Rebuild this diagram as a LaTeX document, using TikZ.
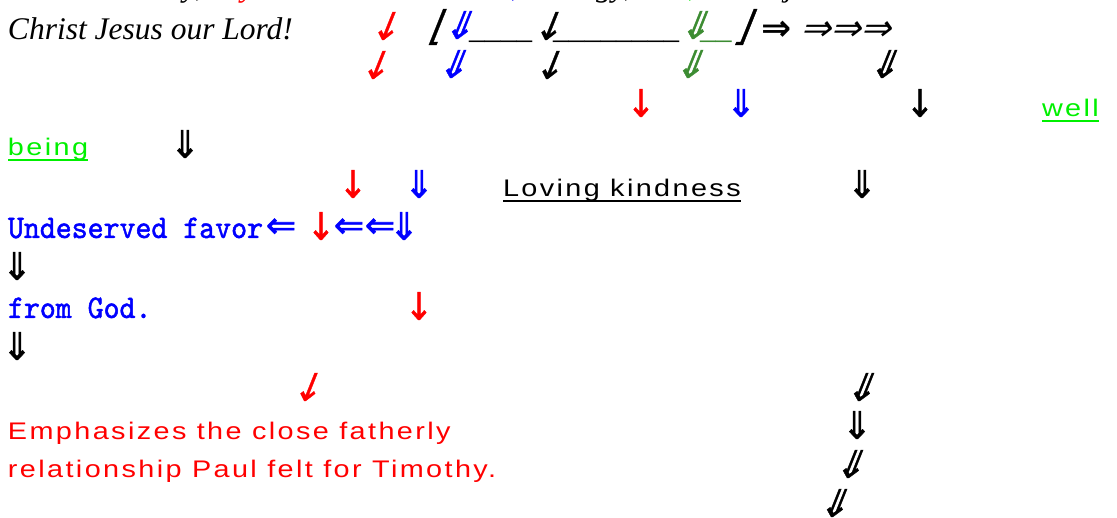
\documentclass[tikz,border=0pt]{standalone}
\usepackage{fontspec}
\setmainfont{Liberation Serif}
\newfontfamily\arrA{DejaVu Sans}[FakeStretch=0.9,FakeBold=1]
\newfontfamily\arrAs{DejaVu Sans}[FakeStretch=0.9,FakeBold=1,FakeSlant=0.4]
\newfontfamily\arrD{DejaVu Sans}[FakeStretch=0.95,FakeBold=1.2]
\newfontfamily\arrDs{DejaVu Sans}[FakeStretch=0.95,FakeBold=1.2,FakeSlant=0.4]
\newfontfamily\arrH{DejaVu Sans}[FakeBold=1.5]
\newfontfamily\arrHb{DejaVu Sans Bold}
\newfontfamily\arrHs{DejaVu Sans}[FakeSlant=0.3]
\newfontfamily\monof{lmmono10-regular.otf}[FakeStretch=0.92,FakeBold=1.5]
\newfontfamily\sansf{Liberation Sans}[LetterSpace=10,FakeStretch=1.2]
\definecolor{lgreen}{RGB}{0,240,0}
\definecolor{dgreen}{RGB}{60,140,50}
\tikzset{
  txt/.style={anchor=base west, inner sep=0pt, outer sep=0pt},
  ital/.style={txt, font=\fontsize{31.5}{36}\selectfont\itshape},
  mono/.style={txt, font=\monof\fontsize{33}{38}\selectfont, text=blue},
  sans/.style={txt, font=\sansf\fontsize{24}{28}\selectfont},
  glyph/.style={inner sep=0pt, outer sep=0pt},
  sa/.style={glyph, font=\arrA\fontsize{38}{38}\selectfont},
  ssa/.style={glyph, font=\arrAs\fontsize{38}{38}\selectfont},
  da/.style={glyph, font=\arrD\fontsize{38}{38}\selectfont},
  dsa/.style={glyph, font=\arrDs\fontsize{38}{38}\selectfont},
  ha/.style={glyph, font=\arrH\fontsize{36}{36}\selectfont},
  hba/.style={glyph, font=\arrHb\fontsize{36}{36}\selectfont},
  hsa/.style={glyph, font=\arrHs\fontsize{36}{36}\selectfont},
  brk/.style={glyph, font=\arrAs\fontsize{40}{40}\selectfont},
  uline/.style={line width=2pt}
}
\begin{document}
\begin{tikzpicture}[x=1pt,y=-1pt]
\useasboundingbox[fill=white] (0,0) rectangle (1117,518);
% cut-off top line
\node[ital] (f1) at (183,-3) {y,};
\node[ital, text=red] (f2) at (241,-3) {y};
\node[ital, text=blue] (f3) at (511,-3) {,};
\node[ital] (f4) at (596,-3) {gy,};
\node[ital, text=lgreen] (f5) at (688,-3) {,};
\node[ital] (f6) at (785,-3) {j};
% row 1
\node[ital] (christ) at (8,40) {Christ Jesus our Lord!};
\node[ssa, text=red] (r1a) at (383,26) {↓};
\node[brk] (lfl) at (435,27) {⌊};
\node[dsa, text=blue] (b1a) at (457,25) {⇓};
\node[ital] (us1) at (469,39) {\_\_\_\_};
\node[ssa] (k1a) at (546,26) {↓};
\node[ital] (us2) at (553,39) {\_\_\_\_\_\_\_\_};
\node[dsa, text=dgreen] (g1a) at (693,25) {⇓};
\node[ital, text=dgreen] (us3) at (700,39) {\_\_};
\node[brk] (rfl) at (741,27) {⌋};
\node[hba] (rr1) at (777,31) {⇒};
\node[hsa, anchor=west] (rr2) at (800,31) {⇒⇒⇒};
% row 2
\node[ssa, text=red] (r2a) at (373,65) {↓};
\node[dsa, text=blue] (b2a) at (451,64) {⇓};
\node[ssa] (k2a) at (547,65) {↓};
\node[dsa, text=dgreen] (g2a) at (688,64) {⇓};
\node[dsa] (k2b) at (882,64) {⇓};
% row 3
\node[sa, text=red] (r3a) at (641,103) {↓};
\node[da, text=blue] (b3a) at (741,103) {⇓};
\node[sa] (k3a) at (920,103) {↓};
\node[sans, text=lgreen] (well) at (1042,117) {well\ };
\draw[uline, lgreen] ([yshift=-4pt]well.base west) -- ([yshift=-4pt]well.base east);
% row 4
\node[sans, text=lgreen] (being) at (8,156) {being};
\draw[uline, lgreen] ([yshift=-4pt]being.base west) -- ([yshift=-4pt]being.base east);
\node[da] (k4a) at (185,144) {⇓};
% row 5
\node[sa, text=red] (r5a) at (353,184) {↓};
\node[da, text=blue] (b5a) at (419,184) {⇓};
\node[sans] (loving) at (503,197) {Loving kindness};
\draw[uline] ([yshift=-4pt]loving.base west) -- ([yshift=-4pt]loving.base east);
\node[da] (k5a) at (862,184) {⇓};
% row 6
\node[mono] (undeserved) at (8,238) {Undeserved favor};
\node[ha, text=blue] (b6a) at (281,228) {⇐};
\node[sa, text=red] (r6a) at (321,226) {↓};
\node[ha, text=blue] (b6b) at (349,228) {⇐};
\node[ha, text=blue] (b6c) at (380,228) {⇐};
\node[da, text=blue] (b6d) at (404,226) {⇓};
% row 7
\node[da] (k7a) at (17,266) {⇓};
% row 8
\node[mono] (fromgod) at (8,318) {from God.};
\node[sa, text=red] (r8a) at (419,306) {↓};
% row 9
\node[da] (k9a) at (17,346) {⇓};
% row 10
\node[ssa, text=red] (r10a) at (305,387) {↓};
\node[dsa] (k10a) at (859,387) {⇓};
% row 11
\node[sans, text=red] (emph) at (8,440) {Emphasizes the close fatherly};
\node[da] (k11a) at (857,425) {⇓};
% row 12
\node[sans, text=red] (rel) at (8,478) {relationship Paul felt for Timothy.};
\node[dsa] (k12a) at (848,464) {⇓};
% row 13
\node[dsa] (k13a) at (832,503) {⇓};
\end{tikzpicture}
\end{document}
